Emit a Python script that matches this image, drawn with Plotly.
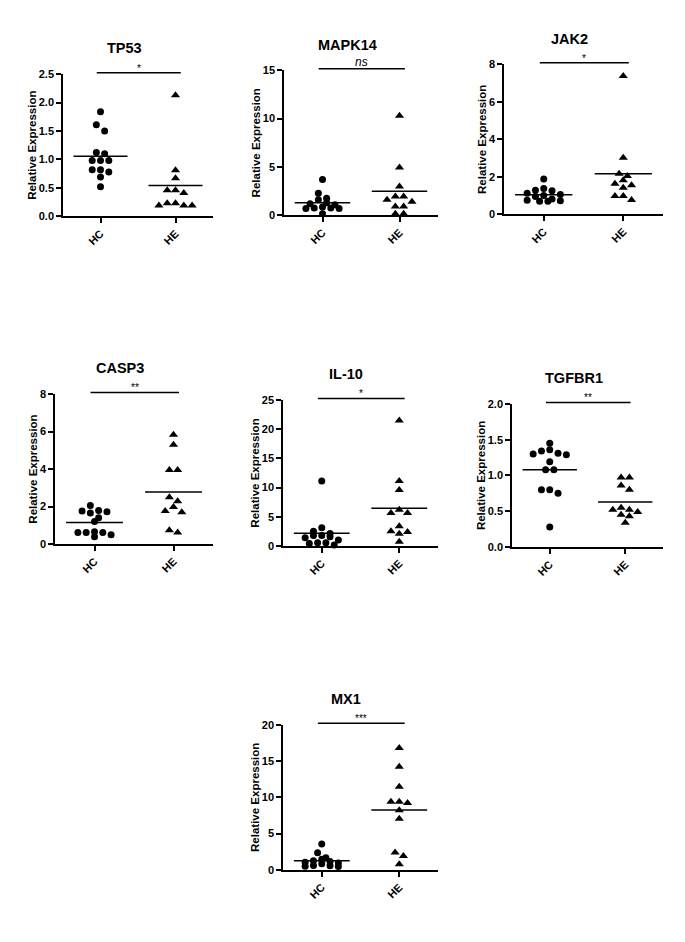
import numpy as np
import plotly.graph_objects as go

W, H = 685, 942

# ---------------- data ----------------
genes = ["TP53", "MAPK14", "JAK2", "CASP3", "IL-10", "TGFBR1", "MX1"]
groups = ["HC", "HE"]
significance = ["*", "ns", "*", "**", "*", "**", "***"]
y_max = [2.5, 15, 8, 8, 25, 2.0, 20]
y_dtick = [0.5, 5, 2, 2, 5, 0.5, 5]
y_format = [".1f", "d", "d", "d", "d", ".1f", "d"]

tp53_hc = [1.84, 1.61, 1.50, 1.12, 1.10, 0.98, 0.98, 0.98, 0.82, 0.82, 0.78, 0.69, 0.52]
tp53_he = [2.13, 0.81, 0.67, 0.46, 0.46, 0.41, 0.23, 0.23, 0.19, 0.19, 0.19]

mapk14_hc = [3.70, 2.27, 1.76, 1.60, 1.30, 1.20, 1.10, 0.85, 0.75, 0.75, 0.70, 0.70, 0.17]
mapk14_he = [10.3, 4.94, 2.97, 1.95, 1.95, 1.60, 1.40, 0.90, 0.90, 0.17, 0.17]

jak2_hc = [1.88, 1.37, 1.28, 1.25, 1.12, 1.05, 1.00, 0.95, 0.82, 0.75, 0.72, 0.70, 0.70]
jak2_he = [7.38, 3.02, 2.16, 2.04, 1.81, 1.63, 1.55, 1.41, 0.98, 0.98, 0.76]

casp3_hc = [2.06, 1.79, 1.76, 1.72, 1.65, 1.40, 1.20, 0.66, 0.62, 0.62, 0.62, 0.50, 0.39]
casp3_he = [5.83, 5.29, 3.95, 3.95, 2.50, 2.28, 1.97, 1.76, 1.70, 0.74, 0.62]

il10_hc = [11.14, 3.11, 2.55, 2.15, 1.81, 1.81, 1.58, 1.41, 1.02, 0.57, 0.57, 0.45, 0.17]
il10_he = [21.5, 11.14, 9.6, 6.2, 5.66, 5.66, 3.4, 2.55, 2.4, 2.1, 0.74]

tgfbr1_hc = [1.45, 1.36, 1.34, 1.31, 1.30, 1.29, 1.19, 1.08, 1.08, 0.80, 0.80, 0.75, 0.28]
tgfbr1_he = [0.97, 0.97, 0.86, 0.80, 0.55, 0.52, 0.52, 0.49, 0.45, 0.43, 0.34]

mx1_hc = [3.55, 2.36, 1.68, 1.45, 1.25, 1.15, 1.05, 0.95, 0.85, 0.60, 0.55, 0.50, 0.45]
mx1_he = [16.8, 14.2, 11.45, 9.4, 9.4, 9.2, 8.2, 7.05, 2.4, 1.9, 0.77]

hc_values = [tp53_hc, mapk14_hc, jak2_hc, casp3_hc, il10_hc, tgfbr1_hc, mx1_hc]
he_values = [tp53_he, mapk14_he, jak2_he, casp3_he, il10_he, tgfbr1_he, mx1_he]

# ---------------- layout (pixel boxes of each plot area: left, right, top, bottom) ----------------
boxes = [
    (63, 213, 69, 213),
    (284, 438, 65, 212),
    (504, 663, 59, 211),
    (55, 213, 393, 545),
    (283, 438, 399, 547),
    (512, 663, 403, 548),
    (283, 438, 728, 875),
]
x_range = [-0.5, 1.5]
FONT = "Liberation Sans, Arial, sans-serif"
STEP = 8.3      # px between neighbouring dots in a row
ROW_H = 6.5     # px: values closer than this share a row
MAX_ROW = 5


def scatter_offsets(values, px_x, px_y):
    """GraphPad-like dot arrangement: group close values into rows, centre each row."""
    vals = np.asarray(values, dtype=float)
    order = np.argsort(-vals)
    offs = np.zeros(len(vals))
    rows, cur = [], []
    for idx in order:
        if cur and ((vals[cur[0]] - vals[idx]) * px_y >= ROW_H or len(cur) >= MAX_ROW):
            rows.append(cur)
            cur = []
        cur.append(idx)
    if cur:
        rows.append(cur)
    for row in rows:
        n = len(row)
        pos = sorted([(j - (n - 1) / 2) for j in range(n)], key=lambda p: (abs(p), p))
        for idx, p in zip(row, pos):
            offs[idx] = p * STEP / px_x
    return offs


fig = go.Figure()
layout = dict(
    width=W, height=H, margin=dict(l=0, r=0, t=0, b=0),
    paper_bgcolor="white", plot_bgcolor="white", showlegend=False,
    font=dict(family=FONT, color="black"),
)
shapes, annotations = [], []

for i, gene in enumerate(genes):
    n = i + 1
    sx = "" if n == 1 else str(n)
    l, r, t, b = boxes[i]
    px_x = (r - l) / (x_range[1] - x_range[0])
    px_y = (b - t) / y_max[i]

    for g, (vals, sym, size) in enumerate([(hc_values[i], "circle", 7), (he_values[i], "triangle-up", 8)]):
        offs = scatter_offsets(vals, px_x, px_y)
        fig.add_trace(go.Scatter(
            x=g + offs, y=vals, mode="markers",
            marker=dict(symbol=sym, size=size, color="black", line=dict(width=0)),
            xaxis="x" + sx, yaxis="y" + sx, cliponaxis=False, hoverinfo="y",
        ))
        m = float(np.mean(vals))
        fig.add_trace(go.Scatter(
            x=[g - 0.36, g + 0.36], y=[m, m], mode="lines",
            line=dict(color="black", width=1.5),
            xaxis="x" + sx, yaxis="y" + sx, hoverinfo="skip",
        ))

    layout["xaxis" + sx] = dict(
        domain=[l / W, r / W], anchor="y" + sx, range=x_range,
        tickvals=[0, 1], ticktext=groups, tickangle=-45,
        showline=True, linecolor="black", linewidth=1.5,
        ticks="outside", ticklen=5, tickwidth=1.5, tickcolor="black",
        showgrid=False, zeroline=False,
        tickfont=dict(size=11, family=FONT, weight="bold"),
    )
    layout["yaxis" + sx] = dict(
        domain=[1 - b / H, 1 - t / H], anchor="x" + sx, range=[0, y_max[i]],
        dtick=y_dtick[i], tick0=0, tickformat=y_format[i],
        showline=True, linecolor="black", linewidth=1.5,
        ticks="outside", ticklen=5, tickwidth=1.5, tickcolor="black",
        showgrid=False, zeroline=False,
        tickfont=dict(size=11, family=FONT, weight="bold"),
        title=dict(text="Relative Expression", font=dict(size=11.5, family=FONT, weight="bold"), standoff=0),
    )

    # significance bar
    xa = (-0.05 - x_range[0]) / (x_range[1] - x_range[0])
    xb = (1.07 - x_range[0]) / (x_range[1] - x_range[0])
    shapes.append(dict(type="line", xref="x" + sx + " domain", yref="y" + sx + " domain",
                       x0=xa, x1=xb, y0=1.01, y1=1.01, line=dict(color="black", width=1.5)))
    sig = significance[i]
    annotations.append(dict(
        xref="x" + sx + " domain", yref="y" + sx + " domain", x=(xa + xb) / 2, y=1.01,
        yanchor="bottom", xanchor="center", showarrow=False,
        text=("<i>%s</i>" % sig) if sig == "ns" else sig,
        font=dict(size=12 if sig == "ns" else 10, family=FONT, color="black"),
        yshift=-3 if sig != "ns" else -2,
    ))
    # panel title
    annotations.append(dict(
        xref="paper", yref="paper", x=((l + r) / 2 - 14) / W, y=1 - (t - 26) / H,
        xanchor="center", yanchor="middle", showarrow=False,
        text="<b>%s</b>" % gene, font=dict(size=14.5, family=FONT, color="black"),
    ))

layout["shapes"] = shapes
layout["annotations"] = annotations
fig.update_layout(**layout)
fig.write_html("out.html", config={"displayModeBar": False},
               post_script="document.body.style.margin='0';")
